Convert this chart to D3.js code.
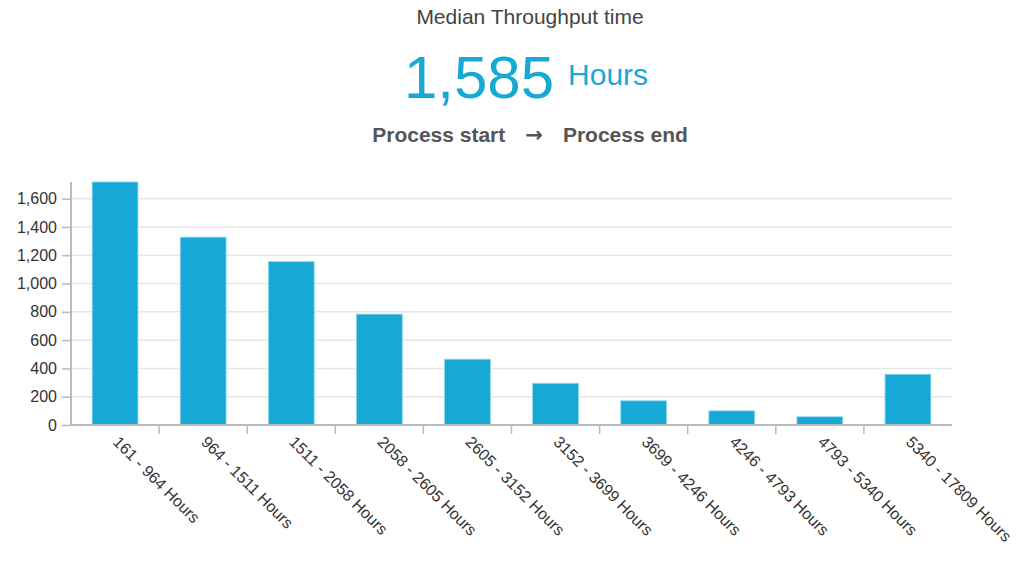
<!DOCTYPE html>
<html>
<head>
<meta charset="utf-8">
<script src="https://cdn.jsdelivr.net/npm/d3@7"></script>
<style>
  body { margin: 0; background: #fff; font-family: "Liberation Sans", Arial, sans-serif; }
</style>
</head>
<body>
<div id="chart"></div>
<script>
var svgWidth = 1024;
var svgHeight = 563;

// data
var categories = ["161 - 964 Hours", "964 - 1511 Hours", "1511 - 2058 Hours", "2058 - 2605 Hours",
  "2605 - 3152 Hours", "3152 - 3699 Hours", "3699 - 4246 Hours", "4246 - 4793 Hours",
  "4793 - 5340 Hours", "5340 - 17809 Hours"];
var counts = [1718, 1328, 1155, 784, 465, 295, 171, 100, 58, 359];
var yTicks = [0, 200, 400, 600, 800, 1000, 1200, 1400, 1600];
var medianValue = 1585;
var medianUnit = "Hours";

var margin = { top: 182, right: 72, bottom: 138, left: 71 };
var width = svgWidth - margin.left - margin.right;
var height = svgHeight - margin.top - margin.bottom;

var svg = d3.select("#chart")
  .append("svg")
  .attr("width", svgWidth)
  .attr("height", svgHeight);

// header
svg.append("text")
  .attr("x", 530)
  .attr("y", 24)
  .attr("text-anchor", "middle")
  .attr("font-size", 21)
  .attr("fill", "#444")
  .text("Median Throughput time");

var big = svg.append("text")
  .attr("x", 526)
  .attr("y", 98)
  .attr("text-anchor", "middle")
  .attr("fill", "#16a9d6");
big.append("tspan")
  .attr("font-size", 60)
  .text(d3.format(",")(medianValue));
big.append("tspan")
  .attr("font-size", 30)
  .attr("dx", 14)
  .attr("dy", -13)
  .text(medianUnit);

var flow = svg.append("text")
  .attr("x", 530)
  .attr("y", 142)
  .attr("text-anchor", "middle")
  .attr("font-size", 21)
  .attr("font-weight", "bold")
  .attr("fill", "#555");
flow.append("tspan").text("Process start");
flow.append("tspan").attr("dx", 20).attr("font-family", "DejaVu Sans").text("\u2192");
flow.append("tspan").attr("dx", 20).text("Process end");

var chartGroup = svg.append("g")
  .attr("transform", `translate(${margin.left}, ${margin.top})`);

var xScale = d3.scaleBand()
  .domain(categories)
  .range([0, width])
  .paddingInner(0.48)
  .paddingOuter(0.24);

var yScale = d3.scaleLinear()
  .domain([0, d3.max(counts)])
  .range([height, 0]);

// gridlines
chartGroup.append("g")
  .selectAll("line")
  .data(yTicks.slice(1))
  .enter()
  .append("line")
  .attr("x1", 0)
  .attr("x2", width)
  .attr("y1", d => yScale(d))
  .attr("y2", d => yScale(d))
  .attr("stroke", "#e6e6e6")
  .attr("stroke-width", 1.5);

// bars
chartGroup.selectAll("rect.bar")
  .data(counts)
  .enter()
  .append("rect")
  .attr("class", "bar")
  .attr("x", (d, i) => xScale(categories[i]))
  .attr("y", d => yScale(d))
  .attr("width", xScale.bandwidth())
  .attr("height", d => height - yScale(d))
  .attr("fill", "#16a9d5")
  .attr("stroke", "#8fd6ee")
  .attr("stroke-width", 0.8);

// y axis
var leftAxis = d3.axisLeft(yScale)
  .tickValues(yTicks)
  .tickFormat(d3.format(","))
  .tickSize(9)
  .tickPadding(5);

var yAxis = chartGroup.append("g").call(leftAxis);
yAxis.selectAll("text")
  .attr("font-size", 16)
  .attr("font-family", "Liberation Sans, Arial, sans-serif")
  .attr("fill", "#333");
yAxis.selectAll("line").attr("stroke", "#bbb").attr("stroke-width", 1.5);
yAxis.select(".domain").attr("stroke", "#bbb").attr("stroke-width", 2)
  .attr("d", `M0,${height}V0`);

// x axis: ticks at band boundaries
var xAxis = chartGroup.append("g")
  .attr("transform", `translate(0, ${height})`);
xAxis.append("line")
  .attr("x1", 0).attr("x2", width)
  .attr("stroke", "#bbb").attr("stroke-width", 2);
xAxis.selectAll("line.tick")
  .data(categories.slice(1))
  .enter()
  .append("line")
  .attr("class", "tick")
  .attr("x1", d => xScale(d) - xScale.step() * xScale.paddingInner() / 2)
  .attr("x2", d => xScale(d) - xScale.step() * xScale.paddingInner() / 2)
  .attr("y1", 0)
  .attr("y2", 9)
  .attr("stroke", "#bbb")
  .attr("stroke-width", 1.5);

xAxis.selectAll("text")
  .data(categories)
  .enter()
  .append("text")
  .attr("transform", d => `translate(${xScale(d) + xScale.bandwidth() / 2 + 1}, 14) rotate(45)`)
  .attr("text-anchor", "start")
  .attr("dy", "0.35em")
  .attr("font-size", 16)
  .attr("fill", "#333")
  .text(d => d);
</script>
</body>
</html>
